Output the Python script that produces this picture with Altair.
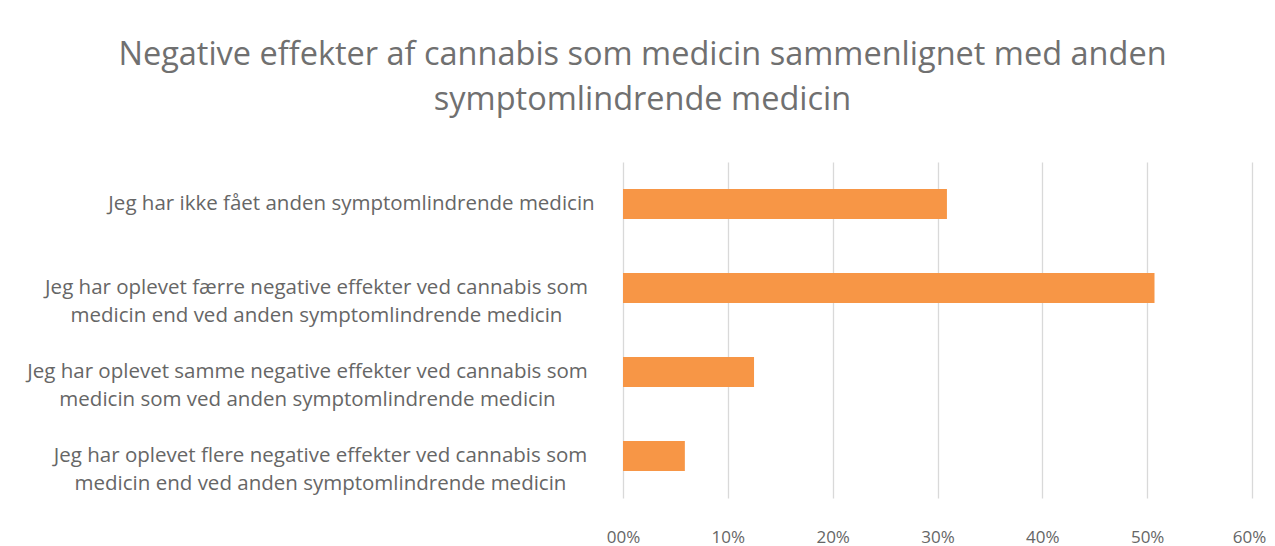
import altair as alt
import pandas as pd

categories = [
    "Jeg har ikke fået anden symptomlindrende medicin",
    "Jeg har oplevet færre negative effekter ved cannabis som|medicin end ved anden symptomlindrende medicin",
    "Jeg har oplevet samme negative effekter ved cannabis som|medicin som ved anden symptomlindrende medicin",
    "Jeg har oplevet flere negative effekter ved cannabis som|medicin end ved anden symptomlindrende medicin",
]
values = [0.309, 0.507, 0.125, 0.059]
tick_values = [0.0, 0.1, 0.2, 0.3, 0.4, 0.5, 0.6]
title_lines = [
    "Negative effekter af cannabis som medicin sammenlignet med anden",
    "symptomlindrende medicin",
]
label_pads = [272, 307, 316, 303]

df = pd.DataFrame({"kategori": categories, "andel": values})

FONT = "Open Sans"
label_cond = [
    {"test": f"datum.value === {c!r}", "value": p}
    for c, p in zip(categories[:-1], label_pads[:-1])
]

chart = (
    alt.Chart(df)
    .mark_bar(color="#F79646")
    .encode(
        x=alt.X(
            "andel:Q",
            scale=alt.Scale(domain=[0, 0.6], nice=False),
            axis=alt.Axis(
                title=None,
                values=tick_values,
                labelExpr="(datum.value < 0.05 ? '00' : format(datum.value * 100, '.0f')) + '%'",
                grid=True,
                gridColor="#D9D9D9",
                gridWidth=1.3,
                domain=False,
                ticks=False,
                labelPadding=31,
                labelFontSize=17,
                labelFont=FONT,
                labelColor="#666666",
                labelFlush=False,
                labelOffset={"condition": {"test": "datum.value > 0.55", "value": -3}, "value": 0},
            ),
        ),
        y=alt.Y(
            "kategori:N",
            sort=categories,
            scale=alt.Scale(paddingInner=0.643, paddingOuter=0.3215),
            axis=alt.Axis(
                title=None,
                domain=False,
                ticks=False,
                grid=False,
                labelExpr="split(datum.label, '|')",
                labelAlign="center",
                labelPadding={"condition": label_cond, "value": label_pads[-1]},
                labelFontSize=20.5,
                labelFont=FONT,
                labelColor="#666666",
                labelLineHeight=28,
                labelLimit=700,
            ),
        ),
    )
    .properties(
        width=629,
        height=336,
        title=alt.Title(
            text=title_lines,
            fontSize=32.5,
            font=FONT,
            fontWeight="normal",
            color="#707070",
            anchor="middle",
            dx=-295,
            offset=46,
            lineHeight=45,
        ),
        autosize=alt.AutoSizeParams(type="none"),
        padding={"left": 615, "top": 154, "right": 15, "bottom": 48},
        background="white",
    )
    .configure_view(stroke=None, strokeWidth=0)
)

chart.save("out.html", embed_options={"renderer": "svg", "actions": False})
